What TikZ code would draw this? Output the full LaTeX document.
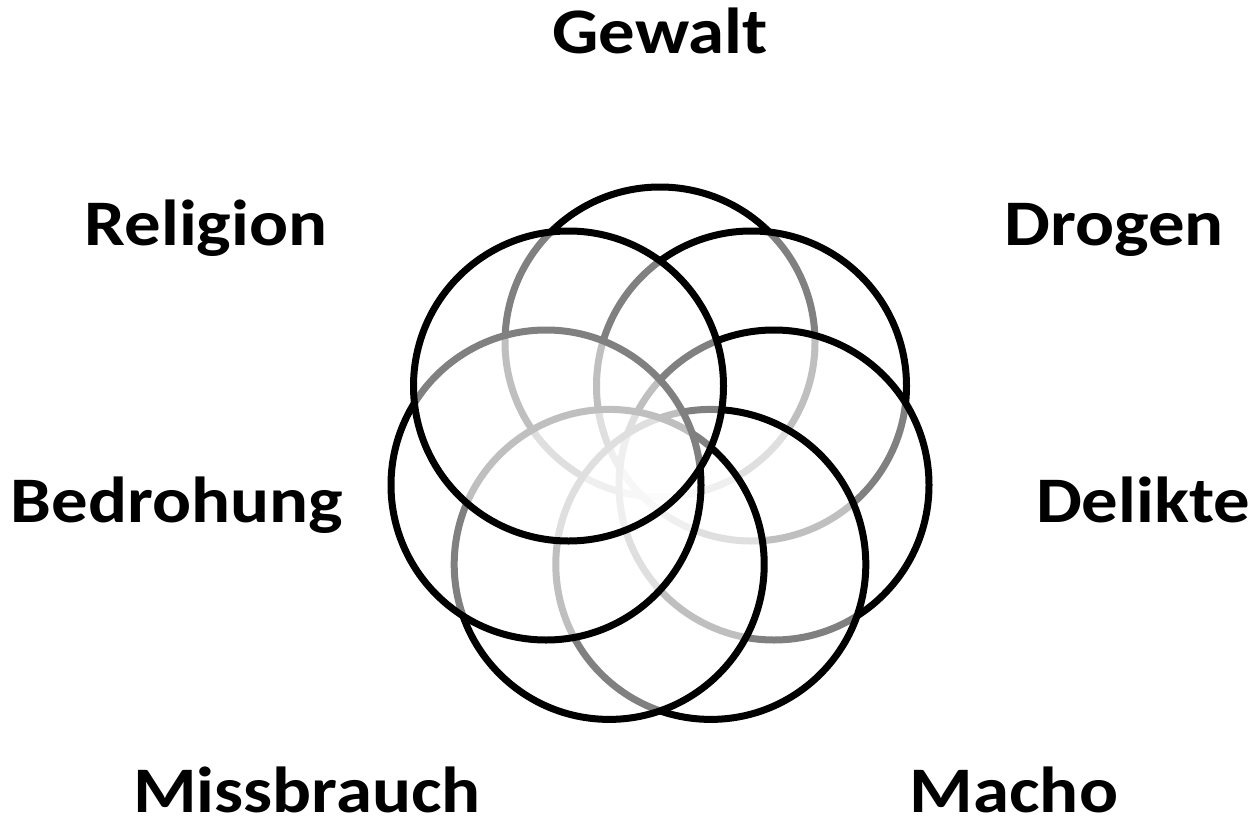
\documentclass[tikz,border=0pt]{standalone}
\usepackage{fontspec}
\setmainfont{Carlito}
\newcommand{\widelbl}[1]{\scalebox{1.12}[1]{#1}}
\begin{document}
\begin{tikzpicture}[x=1pt,y=-1pt,
  ring/.style={circle, draw=black, line width=7pt, minimum size=310pt, inner sep=0pt, fill=white, fill opacity=0.5},
  lbl/.style={anchor=base, inner sep=0pt, font=\fontsize{65}{70}\selectfont\bfseries}]
\useasboundingbox (0,0) rectangle (1258,819);
\node[ring] (cgewalt) at (660,342) {};
\node[ring] (cdrogen) at (751.5,386) {};
\node[ring] (cdelikte) at (774,485) {};
\node[ring] (cmacho) at (710.8,564.4) {};
\node[ring] (cmiss) at (609.2,564.4) {};
\node[ring] (cbedro) at (546,485) {};
\node[ring] (creli) at (568.5,386) {};
\node[lbl] (gewalt) at (660,53) {\widelbl{Gewalt}};
\node[lbl] (drogen) at (1114,245) {\widelbl{Drogen}};
\node[lbl] (delikte) at (1143,522) {\widelbl{Delikte}};
\node[lbl] (macho) at (1014,812) {\widelbl{Macho}};
\node[lbl] (miss) at (307,812) {\widelbl{Missbrauch}};
\node[lbl] (bedro) at (177,522) {\widelbl{Bedrohung}};
\node[lbl] (reli) at (206,245) {\widelbl{Religion}};
\end{tikzpicture}
\end{document}
